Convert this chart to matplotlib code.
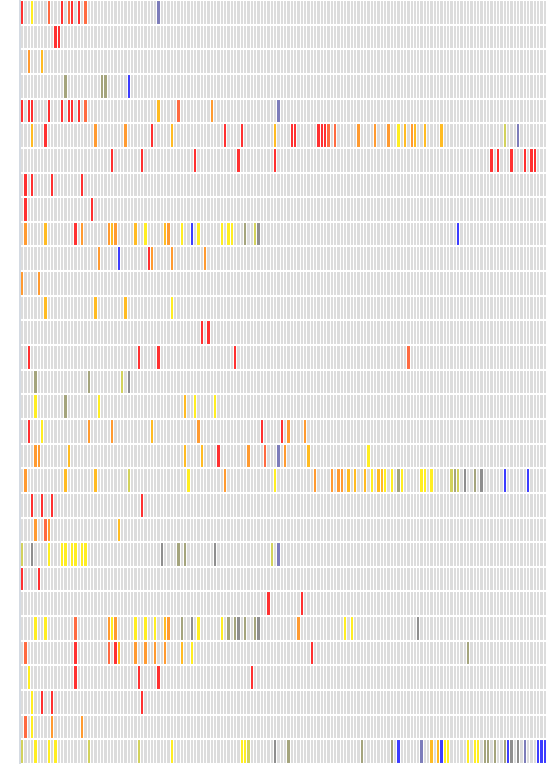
import numpy as np
import matplotlib
matplotlib.use("Agg")
import matplotlib.pyplot as plt
from matplotlib.colors import ListedColormap, BoundaryNorm

N_COLS = 158
N_ROWS = 31

# category colours: 0 = empty, 1 red ... 10 blue
palette = ["#dcdcdc", "#ff3030", "#ff6a40", "#ff9a30", "#ffbb22", "#ffee22",
           "#d2d25c", "#a4a47c", "#8e8e8e", "#7c7cba", "#3c3cff"]

# per-row (column index, category) events
row_cols = [
    [0, 3, 8, 12, 14, 15, 17, 19, 41],
    [10, 11],
    [2, 6],
    [13, 24, 25, 32],
    [0, 2, 3, 8, 12, 14, 15, 17, 19, 41, 47, 57, 77],
    [3, 7, 22, 31, 39, 45, 61, 66, 76, 81, 82, 89, 90, 91, 92, 94, 101, 106, 110, 113, 115, 117, 118, 121, 126, 145, 149],
    [27, 36, 52, 65, 76, 141, 143, 147, 151, 153, 154],
    [1, 3, 9, 18],
    [1, 21],
    [1, 7, 16, 18, 26, 27, 28, 34, 37, 43, 44, 48, 51, 53, 60, 62, 63, 67, 70, 71, 131],
    [23, 29, 38, 39, 45, 55],
    [0, 5],
    [7, 22, 31, 45],
    [54, 56],
    [2, 35, 41, 64, 116],
    [4, 20, 30, 32],
    [4, 13, 23, 49, 52, 58],
    [2, 6, 20, 27, 39, 53, 72, 78, 80, 85],
    [4, 5, 14, 49, 54, 59, 68, 73, 77, 79, 86, 104],
    [1, 13, 22, 32, 50, 61, 76, 88, 93, 95, 96, 98, 100, 103, 105, 107, 108, 109, 111, 113, 114, 120, 121, 123, 129, 130, 131, 133, 136, 138, 145, 152],
    [3, 6, 9, 36],
    [4, 7, 8, 29],
    [0, 3, 8, 12, 13, 15, 16, 18, 19, 42, 47, 49, 58, 75, 77],
    [0, 5],
    [74, 84],
    [4, 7, 16, 26, 27, 28, 34, 37, 40, 43, 44, 48, 51, 53, 60, 62, 64, 65, 67, 70, 71, 83, 97, 99, 119],
    [1, 16, 26, 28, 29, 34, 37, 40, 43, 48, 51, 87, 134],
    [2, 16, 35, 41, 69],
    [3, 6, 9, 36],
    [1, 3, 9, 18],
    [0, 4, 8, 10, 20, 35, 45, 66, 67, 68, 76, 80, 102, 111, 113, 120, 123, 125, 126, 127, 128, 134, 136, 137, 139, 140, 142, 145, 146, 147, 149, 151, 155, 156, 157],
]
row_cats = [
    [1, 5, 2, 1, 2, 1, 1, 2, 9],
    [1, 1],
    [3, 4],
    [7, 7, 7, 10],
    [1, 1, 1, 1, 1, 1, 1, 1, 2, 4, 2, 3, 9],
    [4, 1, 3, 3, 1, 4, 1, 1, 4, 1, 1, 1, 1, 1, 2, 2, 3, 3, 3, 5, 4, 3, 4, 4, 4, 6, 9],
    [1, 1, 1, 1, 1, 1, 1, 1, 1, 1, 1],
    [1, 1, 1, 1],
    [1, 1],
    [3, 4, 1, 3, 3, 4, 3, 4, 5, 4, 3, 5, 10, 5, 5, 5, 5, 7, 6, 8, 10],
    [3, 10, 1, 3, 3, 3],
    [3, 3],
    [4, 4, 4, 5],
    [1, 1],
    [1, 1, 1, 1, 2],
    [7, 7, 6, 8],
    [5, 7, 5, 4, 5, 5],
    [1, 5, 3, 3, 4, 3, 1, 1, 3, 3],
    [3, 3, 4, 4, 4, 1, 3, 2, 9, 3, 4, 5],
    [3, 4, 4, 6, 5, 3, 5, 3, 3, 3, 3, 4, 4, 4, 5, 4, 4, 5, 5, 7, 5, 5, 5, 5, 6, 7, 6, 8, 7, 8, 10, 10],
    [1, 1, 1, 1],
    [3, 2, 3, 4],
    [6, 8, 5, 5, 5, 5, 5, 5, 5, 8, 7, 7, 8, 6, 9],
    [1, 1],
    [1, 1],
    [5, 5, 2, 3, 5, 3, 5, 5, 5, 4, 3, 7, 8, 5, 5, 7, 7, 8, 7, 7, 8, 3, 5, 5, 8],
    [2, 1, 2, 1, 4, 3, 3, 3, 3, 4, 5, 1, 7],
    [5, 1, 1, 1, 1],
    [5, 1, 1, 1],
    [2, 5, 3, 3],
    [6, 5, 5, 5, 6, 6, 5, 5, 5, 6, 8, 7, 7, 7, 10, 9, 4, 4, 10, 5, 5, 5, 5, 5, 7, 7, 7, 7, 10, 8, 8, 9, 10, 10, 10],
]

M = np.zeros((N_ROWS, N_COLS))
for r, (cs, ks) in enumerate(zip(row_cols, row_cats)):
    for c, k in zip(cs, ks):
        M[r, c] = k

cmap = ListedColormap(palette)
norm = BoundaryNorm(np.arange(-0.5, len(palette) + 0.5, 1), cmap.N)

fig = plt.figure(figsize=(5.46, 7.64), dpi=100)
ax = fig.add_axes([20 / 546, 0.0, 526 / 546, 1.0])
ax.pcolormesh(np.arange(N_COLS + 1), np.arange(N_ROWS + 1), M, cmap=cmap, norm=norm,
              edgecolors="white", linewidth=0.45)
for y in range(N_ROWS + 1):
    ax.axhline(y, color="white", lw=1.5)
ax.set_xlim(0, N_COLS)
ax.set_ylim(N_ROWS, 0)
ax.set_xticks([])
ax.set_yticks([])
for s in ["top", "right", "bottom"]:
    ax.spines[s].set_visible(False)
ax.spines["left"].set_color("#cdd4de")
ax.spines["left"].set_linewidth(1.2)
fig.savefig("out.png", dpi=100)
